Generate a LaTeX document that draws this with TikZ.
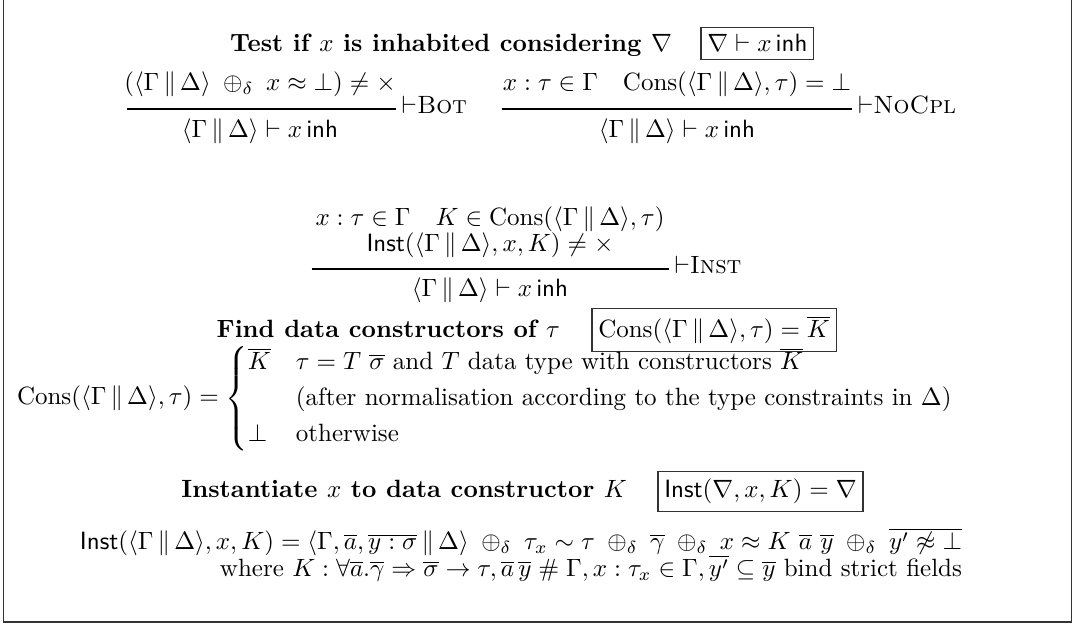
\documentclass[tikz,border=0pt]{standalone}
\usepackage{amsmath,amssymb}
\usetikzlibrary{calc}
\newcommand{\myctx}{\langle\Gamma\,\|\,\Delta\rangle}
\newcommand{\myInst}{\textsf{Inst}}
\newcommand{\myCons}{\mathrm{Cons}}
\newcommand{\myinh}{\,\textsf{inh}}
\newcommand{\myop}{\;\oplus_\delta\;}
\begin{document}
\begin{tikzpicture}[x=0.4pt,y=-0.4pt,
  frame/.style={draw=black!80,line width=0.7pt},
  judg/.style={draw=black!80,line width=0.45pt,inner xsep=2.5pt,inner ysep=3pt,outer sep=0pt},
  txt/.style={inner sep=0pt,outer sep=0pt},
  rulebar/.style={line width=0.45pt},
  rname/.style={inner sep=0pt,outer sep=0pt,anchor=base west}]
\useasboundingbox (0,0) rectangle (1075,625);
\draw[frame] (3.5,-20) -- (3.5,622) -- (1071.5,622) -- (1071.5,-20);

% ---- Section 1
\node[txt,anchor=base east] (t1) at (672,52) {\textbf{Test if $x$ is inhabited considering $\nabla$}};
\node[judg,anchor=base west] (b1) at (701,52) {$\nabla \vdash x\myinh$};

% Bot
\node[txt,anchor=base] (bp) at (260,91) {$(\myctx \myop x \approx \bot) \neq \times$};
\node[txt,anchor=base] (bc) at (260,138) {$\myctx \vdash x\myinh$};
\coordinate (bl) at ($(bp.west |- 0,109)+(3,0)$);
\coordinate (br) at (bp.east |- 0,109);
\draw[rulebar] (bl) -- (br);
\path (br) ++(6,5) node[rname] (bn) {$\vdash$\textsc{Bot}};

% NoCpl
\node[txt,anchor=base] (np) at (677,91) {$x : \tau \in \Gamma \quad \myCons(\myctx, \tau) = \bot$};
\node[txt,anchor=base] (nc) at (677,138) {$\myctx \vdash x\myinh$};
\coordinate (nl) at ($(np.west |- 0,109)+(-1,0)$);
\coordinate (nr) at ($(np.east |- 0,109)+(1,0)$);
\draw[rulebar] (nl) -- (nr);
\path (nr) ++(6,5) node[rname] (nn) {$\vdash$\textsc{NoCpl}};

% Inst
\node[txt,anchor=base] (ip1) at (490,226) {$x : \tau \in \Gamma \quad K \in \myCons(\myctx, \tau)$};
\node[txt,anchor=base] (ip2) at (490,252) {$\myInst(\myctx, x, K) \neq \times$};
\node[txt,anchor=base] (ic) at (490,297) {$\myctx \vdash x\myinh$};
\coordinate (il) at ($(ip1.west |- 0,269)+(-4,0)$);
\coordinate (ir) at ($(ip1.east |- 0,269)+(4,0)$);
\draw[rulebar] (il) -- (ir);
\path (ir) ++(6,5) node[rname] (in) {$\vdash$\textsc{Inst}};

% ---- Section 2
\node[txt,anchor=base east] (t2) at (560,338) {\textbf{Find data constructors of $\tau$}};
\node[judg,anchor=base west] (b2) at (592,338) {$\myCons(\myctx,\tau) = \overline{K}$};
\node[txt,anchor=base west] (cs) at (17,405) {$\myCons(\myctx, \tau) = \begin{cases}
  \overline{K} & \tau = T\ \overline{\sigma} \text{ and $T$ data type with constructors $\overline{K}$}\\
   & \text{(after normalisation according to the type constraints in $\Delta$)}\\
  \bot & \text{otherwise}
\end{cases}$};

% ---- Section 3
\node[txt,anchor=base east] (t3) at (627,498) {\textbf{Instantiate $x$ to data constructor $K$}};
\node[judg,anchor=base west] (b3) at (658,498) {$\myInst(\nabla, x, K) = \nabla$};
\node[txt,anchor=base east] (l1) at (962,550) {$\myInst(\myctx, x, K) = \langle\Gamma, \overline{a}, \overline{y : \sigma}\,\|\,\Delta\rangle \myop \tau_x \sim \tau \myop \overline{\gamma} \myop x \approx K\ \overline{a}\ \overline{y} \myop \overline{y' \not\approx \bot}$};
\node[txt,anchor=base east] (l2) at (962,577) {where $K : \forall \overline{a}.\overline{\gamma} \Rightarrow \overline{\sigma} \to \tau, \overline{a}\,\overline{y} \mathrel{\#} \Gamma, x : \tau_x \in \Gamma, \overline{y'} \subseteq \overline{y}$ bind strict fields};
\end{tikzpicture}
\end{document}
